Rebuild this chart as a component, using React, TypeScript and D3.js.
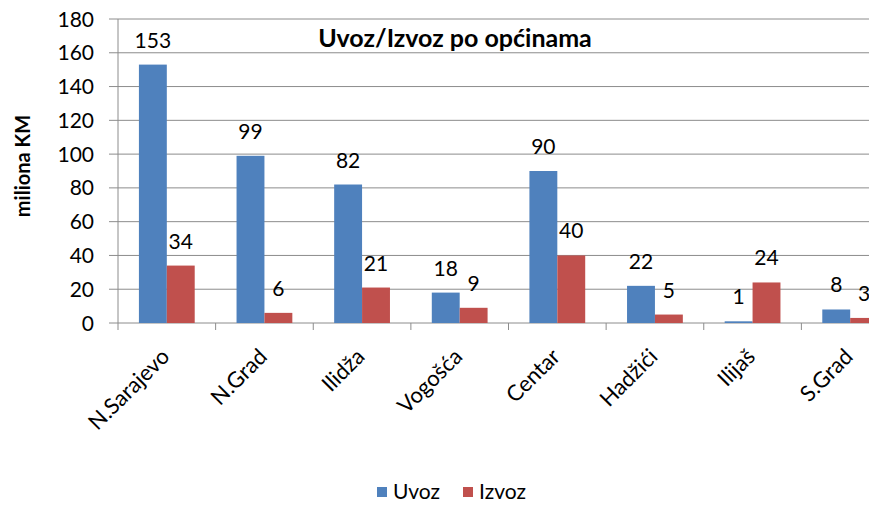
import * as d3 from "d3";
import React from "react";

const categories = ["N.Sarajevo", "N.Grad", "Ilidža", "Vogošća", "Centar", "Hadžići", "Ilijaš", "S.Grad"];
const uvoz = [153, 99, 82, 18, 90, 22, 1, 8];
const izvoz = [34, 6, 21, 9, 40, 5, 24, 3];
const yTicks = [0, 20, 40, 60, 80, 100, 120, 140, 160, 180];
const seriesNames = ["Uvoz", "Izvoz"];
const colors = ["#4F81BD", "#C0504D"];

const font = "Lato, 'Open Sans', sans-serif";

export default function App() {
    const left = 118;
    const right = 899;
    const top = 19;
    const bottom = 323;

    const x = d3.scaleBand().domain(categories).range([left, right]);
    const y = d3.scaleLinear().domain([0, 180]).range([bottom, top]);
    const groupW = x.bandwidth() / 1.75;
    const barW = groupW / 2;
    const series = [uvoz, izvoz];

    return <div style={{ position: "absolute", left: 0, top: 0, width: 869, height: 505, overflow: "hidden", background: "#fff" }}>
        <svg width={869} height={505} style={{ display: "block" }} fontFamily={font}>
            <rect width={869} height={505} fill="#fff" />
            {yTicks.map(t => <g key={t}>
                <line x1={left - 9} x2={right} y1={y(t)} y2={y(t)} stroke="#8c8c8c" strokeWidth={1} />
                <text x={left - 24} y={y(t)} dy="0.36em" textAnchor="end" fontSize={21} fill="#000">{t}</text>
            </g>)}
            <line x1={left} x2={left} y1={top} y2={bottom} stroke="#8c8c8c" />
            {categories.map(c => <line key={"tk" + c} x1={x(c)!} x2={x(c)!} y1={bottom} y2={bottom + 7} stroke="#8c8c8c" />)}
            <line x1={right} x2={right} y1={bottom} y2={bottom + 7} stroke="#8c8c8c" />
            {categories.map((c, i) => {
                const gx = x(c)! + (x.bandwidth() - groupW) / 2;
                return <g key={c}>
                    {series.map((s, k) => <g key={k}>
                        <rect x={gx + k * barW} y={y(s[i])} width={barW} height={bottom - y(s[i])} fill={colors[k]} />
                        <text x={gx + k * barW + barW / 2} y={y(s[i]) - 17} textAnchor="middle" fontSize={21} fill="#000">{s[i]}</text>
                    </g>)}
                </g>;
            })}
            {categories.map(c => {
                const cx = x(c)! + x.bandwidth() / 2 + 4;
                const cy = 358;
                return <text key={"lb" + c} x={cx} y={cy} textAnchor="end" fontSize={22} fill="#000"
                    transform={`rotate(-45, ${cx}, ${cy})`}>{c}</text>;
            })}
            <text x={455} y={47} textAnchor="middle" fontSize={25} fontWeight="bold" fill="#000">Uvoz/Izvoz po općinama</text>
            <text transform={`translate(30, 166) rotate(-90)`} textAnchor="middle" fontSize={20} fontWeight="bold" fill="#000">miliona KM</text>
            {seriesNames.map((n, k) => {
                const lx = k === 0 ? 377 : 463;
                return <g key={n}>
                    <rect x={lx} y={487} width={10} height={10} fill={colors[k]} />
                    <text x={lx + 16} y={499} fontSize={21} fill="#000">{n}</text>
                </g>;
            })}
        </svg>
    </div>;
}
